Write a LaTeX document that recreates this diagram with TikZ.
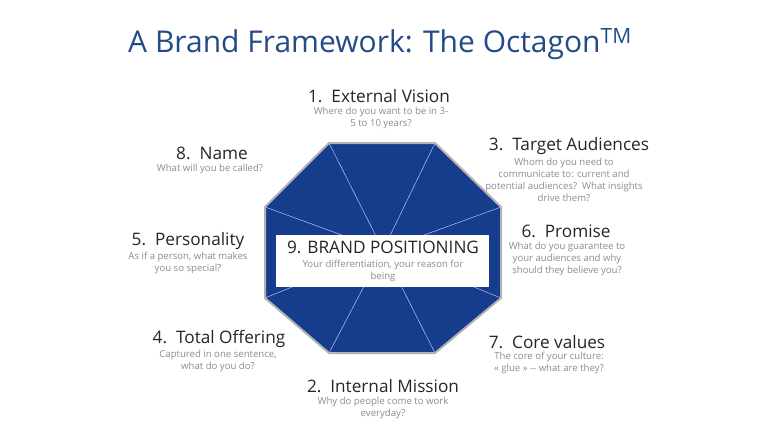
\documentclass[tikz,border=0pt]{standalone}
\usepackage{fontspec}
\setmainfont{Open Sans}
\begin{document}
\begin{tikzpicture}[x=1pt,y=-1pt,
  head/.style={font=\fontsize{17.2}{18}\selectfont, text=black!85},
  sub/.style={font=\fontsize{9.6}{12}\selectfont, text=black!45, align=center},
  spoke/.style={draw=white!75!blue, line width=0.5pt}]
\useasboundingbox[fill=white] (0,0) rectangle (767,436);
\definecolor{octblue}{RGB}{22,60,140}
\definecolor{titleblue}{RGB}{35,75,135}
\node[font=\fontsize{30}{32}\selectfont, text=titleblue] (title) at (380,44) {A Brand Framework: The Octagon\textsuperscript{TM}};
\coordinate (c) at (383,250);
\coordinate (v1) at (329,143); \coordinate (v2) at (435,143);
\coordinate (v3) at (501,207); \coordinate (v4) at (501,298);
\coordinate (v5) at (435,353); \coordinate (v6) at (329,353);
\coordinate (v7) at (265,298); \coordinate (v8) at (265,207);
\draw[fill=octblue, draw=black!30, line width=2pt] (v1)--(v2)--(v3)--(v4)--(v5)--(v6)--(v7)--(v8)--cycle;
\foreach \v in {v1,v2,v3,v4,v5,v6,v7,v8} \draw[spoke] (c) -- (\v);
\node[fill=white, minimum width=213, minimum height=52] (box) at (382.5,261) {};
\node[font=\fontsize{17.2}{18}\selectfont, text=black!85] (n9) at (383,247) {9. BRAND POSITIONING};
\node[sub] (s9) at (383,271) {Your differentiation, your reason for\\being};
\node[head] (n1) at (379,96) {1.\ \ External Vision};
\node[sub] (s1) at (381,118) {Where do you want to be in 3-\\5 to 10 years?};
\node[head] (n8) at (212,153) {8.\ \ Name};
\node[sub] (s8) at (210,169) {What will you be called?};
\node[head] (n3) at (569,146) {3.\ \ Target Audiences};
\node[sub] (s3) at (564,180) {Whom do you need to\\communicate to: current and\\potential audiences?\ \ What insights\\drive them?};
\node[head] (n5) at (188,241) {5.\ \ Personality};
\node[sub] (s5) at (188,263) {As if a person, what makes\\you so special?};
\node[head] (n6) at (566,231) {6.\ \ Promise};
\node[sub] (s6) at (567,259) {What do you guarantee to\\your audiences and why\\should they believe you?};
\node[head] (n4) at (219,339) {4.\ \ Total Offering};
\node[sub] (s4) at (218,361) {Captured in one sentence,\\what do you do?};
\node[head] (n7) at (547,342) {7.\ \ Core values};
\node[sub] (s7) at (549,363) {The core of your culture:\\« glue » -{}- what are they?};
\node[head] (n2) at (383,386) {2.\ \ Internal Mission};
\node[sub] (s2) at (383,408) {Why do people come to work\\everyday?};
\end{tikzpicture}
\end{document}
